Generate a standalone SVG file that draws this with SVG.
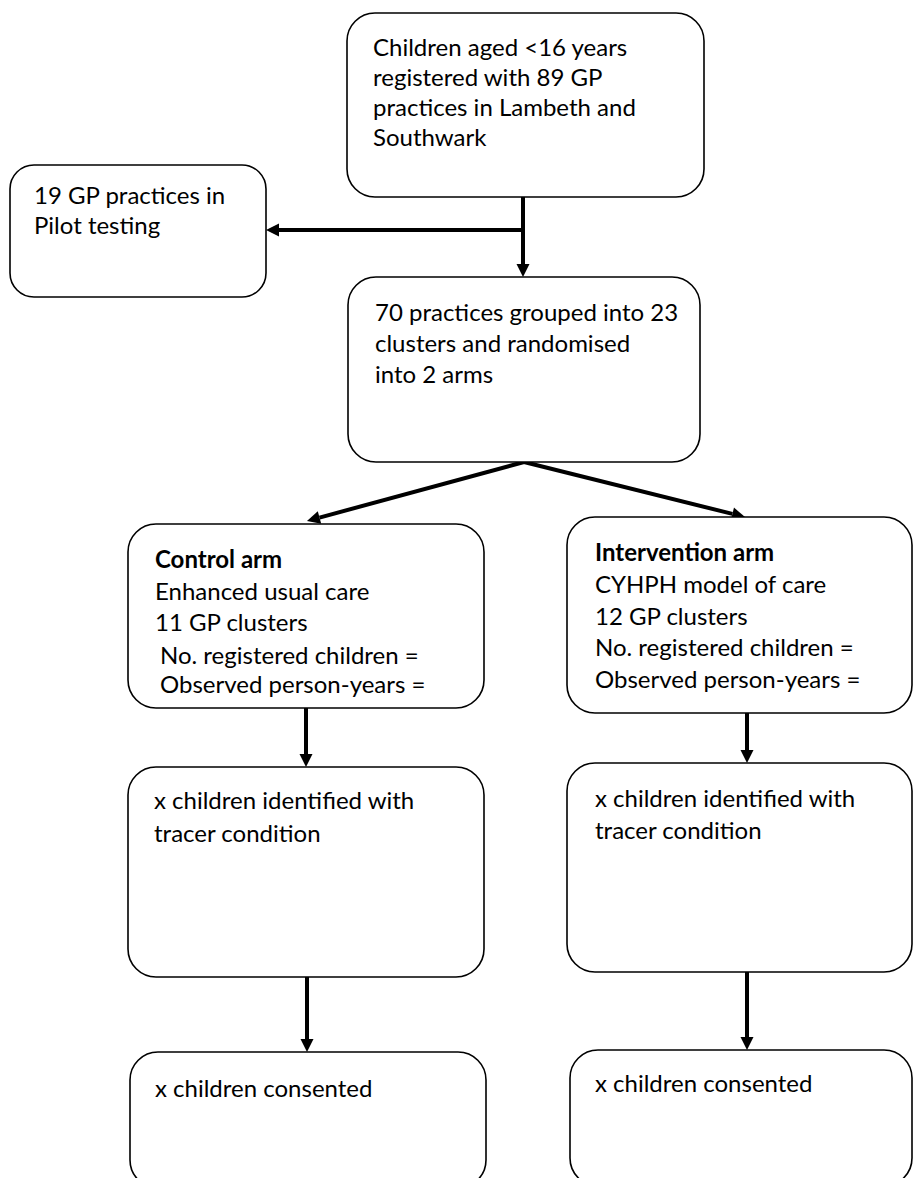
<svg xmlns="http://www.w3.org/2000/svg" width="914" height="1178" viewBox="0 0 914 1178">
<style>
.box{fill:#fff;stroke:#000;stroke-width:1.6}
.t{font-family:Lato,"Liberation Sans",sans-serif;font-size:24px;fill:#000}
.b{font-weight:bold}
.c{stroke:#000;stroke-width:4;fill:none}
</style>
<defs>
<marker id="ah" markerUnits="userSpaceOnUse" markerWidth="13" markerHeight="13" refX="0" refY="6.5" orient="auto" overflow="visible">
<path d="M0,0 L13,6.5 L0,13 z" fill="#000"/>
</marker>
</defs>
<rect width="914" height="1178" fill="#fff"/>
<g id="connectors">
<path class="c" d="M523,197 V264" marker-end="url(#ah)"/>
<path class="c" d="M523,230 H279" marker-end="url(#ah)"/>
<path class="c" d="M524,462 L319.5,517.6" marker-end="url(#ah)"/>
<path class="c" d="M524,462 L732.4,513.9" marker-end="url(#ah)"/>
<path class="c" d="M306,708 V754" marker-end="url(#ah)"/>
<path class="c" d="M747,713 V750" marker-end="url(#ah)"/>
<path class="c" d="M307,977 V1039" marker-end="url(#ah)"/>
<path class="c" d="M747,972 V1037" marker-end="url(#ah)"/>
</g>
<g id="n-start">
<rect class="box" x="347" y="13" width="357" height="184" rx="28"/>
<text class="t" x="373" y="56">Children aged &lt;16 years</text>
<text class="t" x="373" y="86">registered with 89 GP</text>
<text class="t" x="373" y="116">practices in Lambeth and</text>
<text class="t" x="373" y="146">Southwark</text>
</g>
<g id="n-pilot">
<rect class="box" x="10" y="165" width="256" height="132" rx="24"/>
<text class="t" x="34" y="204">19 GP practices in</text>
<text class="t" x="34" y="234">Pilot testing</text>
</g>
<g id="n-random">
<rect class="box" x="348" y="277" width="352" height="185" rx="28"/>
<text class="t" x="375" y="321">70 practices grouped into 23</text>
<text class="t" x="375" y="352">clusters and randomised</text>
<text class="t" x="375" y="383">into 2 arms</text>
</g>
<g id="n-control">
<rect class="box" x="128" y="524" width="356" height="184" rx="28"/>
<text class="t b" x="155" y="568">Control arm</text>
<text class="t" x="155" y="600">Enhanced usual care</text>
<text class="t" x="155" y="631">11 GP clusters</text>
<text class="t" x="160" y="664">No. registered children =</text>
<text class="t" x="160" y="693">Observed person-years =</text>
</g>
<g id="n-intervention">
<rect class="box" x="567" y="517" width="345" height="196" rx="28"/>
<text class="t b" x="595" y="561">Intervention arm</text>
<text class="t" x="595" y="593">CYHPH model of care</text>
<text class="t" x="595" y="625">12 GP clusters</text>
<text class="t" x="595" y="656">No. registered children =</text>
<text class="t" x="595" y="688">Observed person-years =</text>
</g>
<g id="n-tracer-control">
<rect class="box" x="128" y="767" width="356" height="210" rx="28"/>
<text class="t" x="154" y="809">x children identified with</text>
<text class="t" x="154" y="842">tracer condition</text>
</g>
<g id="n-tracer-intervention">
<rect class="box" x="567" y="763" width="345" height="209" rx="28"/>
<text class="t" x="595" y="807">x children identified with</text>
<text class="t" x="595" y="839">tracer condition</text>
</g>
<g id="n-consent-control">
<rect class="box" x="130" y="1052" width="356" height="136" rx="28"/>
<text class="t" x="155" y="1097">x children consented</text>
</g>
<g id="n-consent-intervention">
<rect class="box" x="570" y="1050" width="342" height="136" rx="28"/>
<text class="t" x="595" y="1092">x children consented</text>
</g>
</svg>
